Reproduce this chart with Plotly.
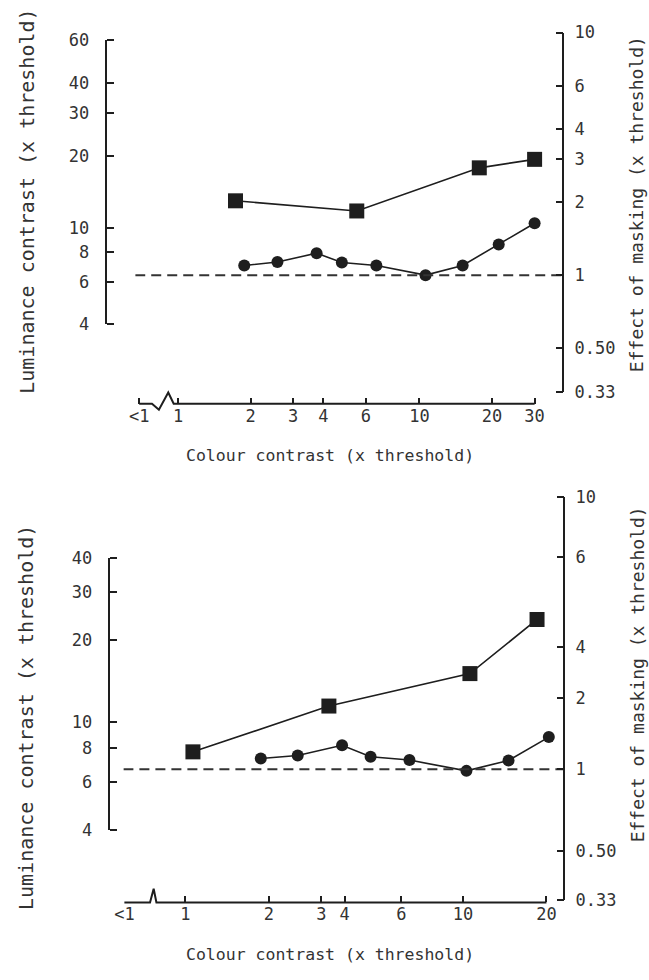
import math
import plotly.graph_objects as go

W, H = 649, 980

# ---------------- data ----------------
# top panel
top_sq_x = [1.73, 5.5, 17.7, 30]
top_sq_y = [13.0, 11.8, 17.8, 19.3]
top_ci_x = [1.88, 2.58, 3.75, 4.77, 6.63, 10.6, 15.1, 21.3, 30]
top_ci_y = [7.02, 7.25, 7.89, 7.22, 7.02, 6.40, 7.02, 8.58, 10.5]
top_x_ticks = [0.69, 1, 2, 3, 4, 6, 10, 20, 30]
top_x_labels = ["<1", "1", "2", "3", "4", "6", "10", "20", "30"]
top_left_ticks = [4, 6, 8, 10, 20, 30, 40, 60]
top_right_ticks = [0.33, 0.5, 1, 2, 3, 4, 6, 10]
top_right_labels = ["0.33", "0.50", "1", "2", "3", "4", "6", "10"]

# bottom panel
bot_sq_x = [1.065, 3.29, 10.6, 18.5]
bot_sq_y = [7.74, 11.4, 15.0, 23.7]
bot_ci_x = [1.87, 2.54, 3.67, 4.65, 6.42, 10.3, 14.6, 20.4]
bot_ci_y = [7.32, 7.50, 8.18, 7.43, 7.22, 6.59, 7.20, 8.77]
bot_x_ticks = [0.603, 1, 2, 3.09, 3.75, 6, 10, 20]
bot_x_labels = ["<1", "1", "2", "3", "4", "6", "10", "20"]
bot_left_ticks = [4, 6, 8, 10, 20, 30, 40]
bot_right_ticks = [0.33, 0.5, 1, 1.83, 2.82, 6, 10]
bot_right_labels = ["0.33", "0.50", "1", "2", "4", "6", "10"]

no_masking = 1  # effect of masking = 1 (dashed reference)

x_title = "Colour contrast (x threshold)"
yl_title = "Luminance contrast (x threshold)"
yr_title = "Effect of masking (x threshold)"

# ---------------- layout helpers (pixel geometry) ----------------
def px(x):
    return x / W

def py(y):
    return 1 - y / H

def ydom(top, bottom):
    return [py(bottom), py(top)]

def xdom(left, right):
    return [px(left), px(right)]

def lg(v):
    return math.log10(v)

def extend(dom, rng, newdom):
    s = (rng[1] - rng[0]) / (dom[1] - dom[0])
    return [rng[0] + (newdom[0] - dom[0]) * s, rng[1] + (newdom[1] - dom[1]) * s]

INK = "#1e1e1e"
TXT = "#333333"
FONT = "DejaVu Sans Mono"
tickfont = dict(family=FONT, size=17, color=TXT)

# top geometry: tick span of x axis, then the wider plotting span
T_XTICKSPAN = (132, 533); T_XLINE = 402
T_XDOM = (128, 562)
T_XRANGE = extend(T_XTICKSPAN, [lg(top_x_ticks[0]), lg(top_x_ticks[-1])], T_XDOM)
T_YL = (31, 321); T_YL_X = 98
T_YR = (23, 390); T_YR_X = 562

# bottom geometry
B_XTICKSPAN = (117, 545); B_XLINE = 911
B_XDOM = (116, 563)
B_XRANGE = extend(B_XTICKSPAN, [lg(bot_x_ticks[0]), lg(bot_x_ticks[-1])], B_XDOM)
B_YL = (559, 837); B_YL_X = 101
B_YR = (497, 909); B_YR_X = 563

fig = go.Figure()

sq_marker = dict(symbol="square", size=15, color=INK)
ci_marker = dict(symbol="circle", size=12, color=INK)
line_style = dict(color=INK, width=1.6)
dash_style = dict(color="#333", width=2, dash="10px,6px")

# top panel traces
fig.add_trace(go.Scatter(x=top_sq_x, y=top_sq_y, mode="lines+markers", marker=sq_marker,
                         line=line_style, xaxis="x", yaxis="y", cliponaxis=False, showlegend=False))
fig.add_trace(go.Scatter(x=top_ci_x, y=top_ci_y, mode="lines+markers", marker=ci_marker,
                         line=line_style, xaxis="x", yaxis="y", cliponaxis=False, showlegend=False))
fig.add_trace(go.Scatter(x=[10 ** T_XRANGE[0], 10 ** T_XRANGE[1]], y=[no_masking, no_masking],
                         mode="lines", line=dash_style, xaxis="x", yaxis="y3", showlegend=False))

# bottom panel traces
fig.add_trace(go.Scatter(x=bot_sq_x, y=bot_sq_y, mode="lines+markers", marker=sq_marker,
                         line=line_style, xaxis="x2", yaxis="y2", cliponaxis=False, showlegend=False))
fig.add_trace(go.Scatter(x=bot_ci_x, y=bot_ci_y, mode="lines+markers", marker=ci_marker,
                         line=line_style, xaxis="x2", yaxis="y2", cliponaxis=False, showlegend=False))
fig.add_trace(go.Scatter(x=[10 ** B_XRANGE[0], 10 ** B_XRANGE[1]], y=[no_masking, no_masking],
                         mode="lines", line=dash_style, xaxis="x2", yaxis="y4", showlegend=False))

# empty traces so the tick-only overlay axes are instantiated
for xa, ya in (("x", "y5"), ("x", "y6"), ("x2", "y7"), ("x2", "y8")):
    fig.add_trace(go.Scatter(x=[], y=[], xaxis=xa, yaxis=ya, showlegend=False, hoverinfo="skip"))

def ylab(**kw):
    # labelled axis with its line (no ticks; ticks come from the overlay)
    d = dict(type="log", showline=True, linecolor=INK, linewidth=2, ticks="",
             showgrid=False, zeroline=False, tickfont=tickfont, anchor="free",
             fixedrange=True, tickmode="array")
    d.update(kw)
    return d

def ytick(**kw):
    # tick-only overlay pointing into the plot
    d = dict(type="log", showline=False, ticks="outside", ticklen=7, tickwidth=1.6,
             tickcolor=INK, showgrid=False, zeroline=False, showticklabels=False,
             anchor="free", fixedrange=True, tickmode="array")
    d.update(kw)
    return d

def xax(**kw):
    d = dict(type="log", showline=False, ticks="inside", ticklen=6, tickwidth=1.6,
             tickcolor=INK, showgrid=False, zeroline=False, tickfont=tickfont,
             anchor="free", fixedrange=True, tickmode="array")
    d.update(kw)
    return d

T_YL_RANGE = [lg(4), lg(60)]
B_YL_RANGE = [lg(4), lg(40)]
YR_RANGE = [lg(0.33), lg(10)]

fig.update_layout(
    width=W, height=H, margin=dict(l=0, r=0, t=0, b=0),
    paper_bgcolor="white", plot_bgcolor="rgba(0,0,0,0)",
    xaxis=xax(domain=xdom(*T_XDOM), range=T_XRANGE, position=py(T_XLINE),
              tickvals=top_x_ticks, ticktext=top_x_labels),
    yaxis=ylab(domain=ydom(*T_YL), range=T_YL_RANGE, position=px(T_YL_X), side="left",
               tickvals=top_left_ticks, ticktext=[str(v) for v in top_left_ticks],
               ticklabelstandoff=12),
    yaxis3=ylab(domain=ydom(*T_YR), range=YR_RANGE, position=px(T_YR_X), side="right",
                tickvals=top_right_ticks, ticktext=top_right_labels, ticklabelstandoff=7),
    yaxis5=ytick(overlaying="y", range=T_YL_RANGE, position=px(T_YL_X), side="right",
                 tickvals=top_left_ticks),
    yaxis6=ytick(overlaying="y3", range=YR_RANGE, position=px(T_YR_X), side="left",
                 tickvals=top_right_ticks),
    xaxis2=xax(domain=xdom(*B_XDOM), range=B_XRANGE, position=py(B_XLINE),
               tickvals=bot_x_ticks, ticktext=bot_x_labels),
    yaxis2=ylab(domain=ydom(*B_YL), range=B_YL_RANGE, position=px(B_YL_X), side="left",
                tickvals=bot_left_ticks, ticktext=[str(v) for v in bot_left_ticks],
                ticklabelstandoff=12),
    yaxis4=ylab(domain=ydom(*B_YR), range=YR_RANGE, position=px(B_YR_X), side="right",
                tickvals=bot_right_ticks, ticktext=bot_right_labels, ticklabelstandoff=7),
    yaxis7=ytick(overlaying="y2", range=B_YL_RANGE, position=px(B_YL_X), side="right",
                 tickvals=bot_left_ticks),
    yaxis8=ytick(overlaying="y4", range=YR_RANGE, position=px(B_YR_X), side="left",
                 tickvals=bot_right_ticks),
)

# x-axis lines with the axis-break symbols (drawn in page coordinates)
def pth(points):
    return "M " + " L ".join(f"{px(a):.5f},{py(b):.5f}" for a, b in points)

top_axis_path = [(132, 402), (145, 402), (152, 408), (161.5, 390.5), (167, 402), (533, 402)]
bot_axis_path = [(117, 911), (143, 911), (146.7, 897), (149.5, 911), (545, 911)]
for p in (top_axis_path, bot_axis_path):
    fig.add_shape(type="path", xref="paper", yref="paper", path=pth(p),
                  line=dict(color=INK, width=2))

# axis titles
xt_font = dict(family=FONT, size=16.5, color=TXT)
yl_font = dict(family=FONT, size=20, color=TXT)
yr_font = dict(family=FONT, size=18, color=TXT)
ann = [
    (x_title, 326, 455, 0, xt_font),
    (x_title, 326, 964, 0, xt_font),
    (yl_title, 18, 195, -90, yl_font),
    (yl_title, 18, 722, -90, yl_font),
    (yr_title, 637, 198, -90, yr_font),
    (yr_title, 637, 678, -90, yr_font),
]
for text, ax, ay, ang, f in ann:
    fig.add_annotation(text=text, x=px(ax), y=py(ay), xref="paper", yref="paper",
                       showarrow=False, textangle=ang, font=f, xanchor="center", yanchor="middle")

fig.write_html("out.html")
